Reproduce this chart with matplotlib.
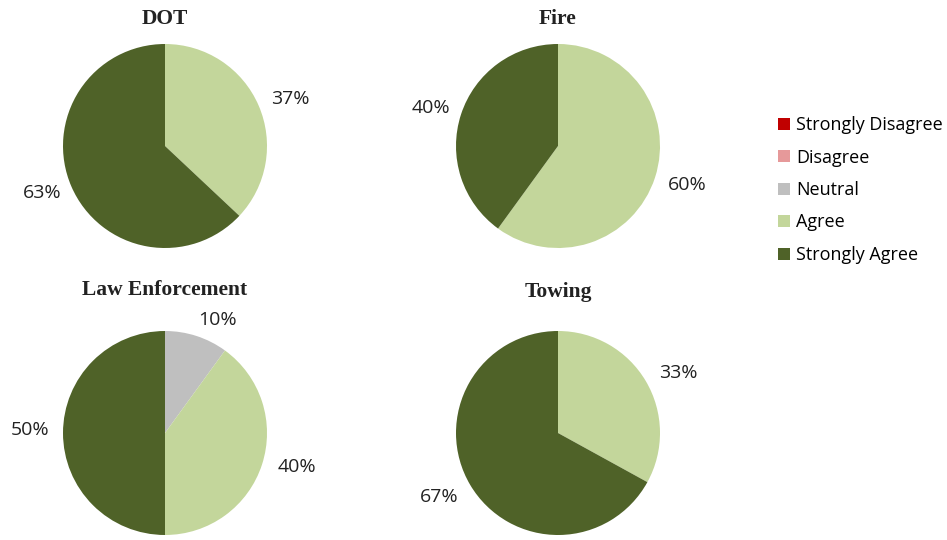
import matplotlib
matplotlib.use("Agg")
import matplotlib.pyplot as plt
from matplotlib.patches import Patch

categories = ["Strongly Disagree", "Disagree", "Neutral", "Agree", "Strongly Agree"]
colors = ["#C00000", "#E6999A", "#BFBFBF", "#C3D69B", "#4F6228"]

panels = ["DOT", "Fire", "Law Enforcement", "Towing"]
shares = {
    "DOT":             [0, 0, 0, 37, 63],
    "Fire":            [0, 0, 0, 60, 40],
    "Law Enforcement": [0, 0, 10, 40, 50],
    "Towing":          [0, 0, 0, 33, 67],
}

# data-label anchor points, in units of the pie radius
label_pos = {
    "DOT":             [(1.23, 0.46), (-1.20, -0.46)],
    "Fire":            [(1.27, -0.38), (-1.25, 0.37)],
    "Law Enforcement": [(0.51, 1.11), (1.29, -0.33), (-1.32, 0.03)],
    "Towing":          [(1.18, 0.59), (-1.16, -0.63)],
}

W, H = 947, 540
fig = plt.figure(figsize=(W / 100, H / 100), dpi=100)

# pie centres and radius in pixels (origin top-left)
centres = {"DOT": (165, 146), "Fire": (558, 146),
           "Law Enforcement": (165, 433), "Towing": (558, 433)}
title_y = {"DOT": 19, "Fire": 19, "Law Enforcement": 290, "Towing": 292}
R = 102

label_font = "Open Sans"
title_font = "Liberation Serif"

for name in panels:
    cx, cy = centres[name]
    ax = fig.add_axes([(cx - R) / W, (H - cy - R) / H, 2 * R / W, 2 * R / H])
    vals = shares[name]
    keep = [(v, c) for v, c in zip(vals, colors) if v > 0]
    v_list = [k[0] for k in keep]
    c_list = [k[1] for k in keep]
    wedges, texts = ax.pie(
        v_list, colors=c_list, startangle=90, counterclock=False,
        labels=[f"{v}%" for v in v_list],
        wedgeprops=dict(linewidth=0),
        textprops=dict(fontsize=14, family=label_font, color="#222222"),
    )
    for t, pos in zip(texts, label_pos[name]):
        t.set_position(pos)
        t.set_horizontalalignment("center")
        t.set_verticalalignment("center")
    ax.set_xlim(-1, 1)
    ax.set_ylim(-1, 1)
    ax.set_aspect("equal")
    ax.axis("off")
    fig.text(cx / W, 1 - title_y[name] / H, name, ha="center", va="center",
             fontsize=15.5, fontweight="bold", family=title_font, color="#222222")

handles = [Patch(facecolor=c, edgecolor="none", label=l) for l, c in zip(categories, colors)]
fig.legend(handles=handles, loc="center left", bbox_to_anchor=(762 / W, 1 - 190 / H),
           frameon=False, handlelength=0.65, handleheight=0.65, handletextpad=0.35,
           labelspacing=0.8, prop=dict(family=label_font, size=13))

fig.savefig("out.png", dpi=100)
